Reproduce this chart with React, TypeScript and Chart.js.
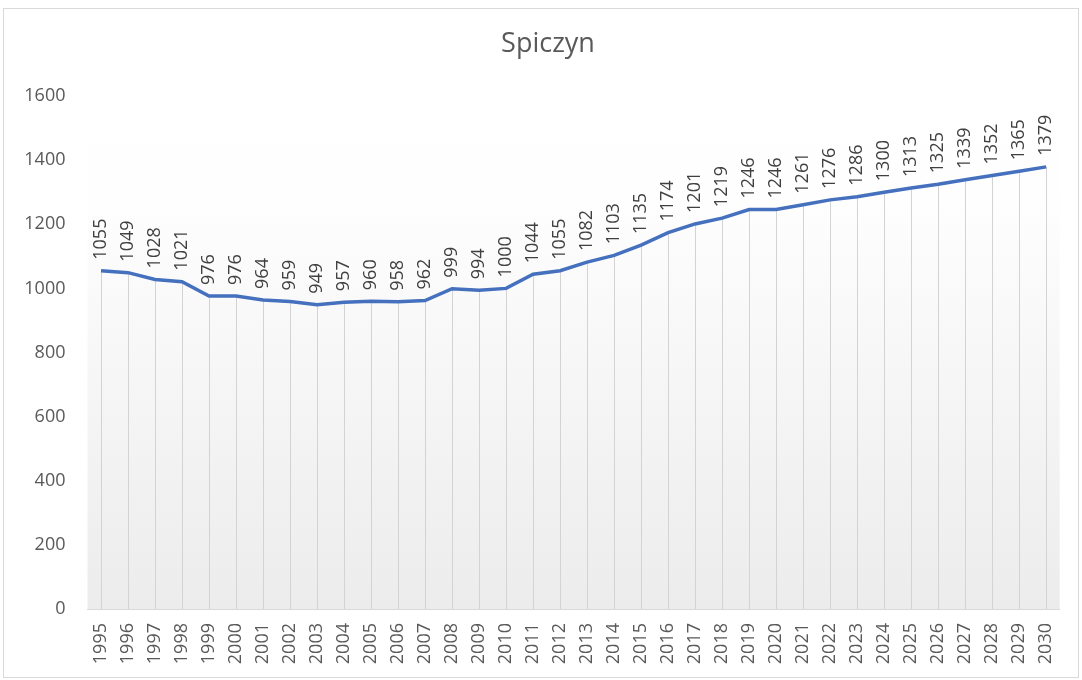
import React, { useEffect, useRef } from "react";
import { Chart, registerables } from "chart.js";

Chart.register(...registerables);

const TITLE = "Spiczyn";
const years = [
  "1995", "1996", "1997", "1998", "1999", "2000", "2001", "2002", "2003", "2004", "2005", "2006",
  "2007", "2008", "2009", "2010", "2011", "2012", "2013", "2014", "2015", "2016", "2017", "2018",
  "2019", "2020", "2021", "2022", "2023", "2024", "2025", "2026", "2027", "2028", "2029", "2030",
];
const population = [
  1055, 1049, 1028, 1021, 976, 976, 964, 959, 949, 957, 960, 958,
  962, 999, 994, 1000, 1044, 1055, 1082, 1103, 1135, 1174, 1201, 1219,
  1246, 1246, 1261, 1276, 1286, 1300, 1313, 1325, 1339, 1352, 1365, 1379,
];
const yMin = 0;
const yMax = 1600;
const yStep = 200;

const FONT = "'Open Sans', 'Noto Sans', sans-serif";

export default function App() {
  const ref = useRef<HTMLCanvasElement>(null);

  useEffect(() => {
    if (!ref.current) return;

    const frame = {
      id: "frame",
      beforeDraw(chart: any) {
        const { ctx, chartArea: a } = chart;
        ctx.save();
        ctx.fillStyle = "#ffffff";
        ctx.fillRect(0, 0, chart.width, chart.height);
        ctx.strokeStyle = "#d9d9d9";
        ctx.lineWidth = 1;
        ctx.strokeRect(3.5, 8.5, 1075, 669);
        const g = ctx.createLinearGradient(0, a.top, 0, a.bottom);
        g.addColorStop(0, "#ffffff");
        g.addColorStop(0.2, "#fefefe");
        g.addColorStop(1, "#ececec");
        ctx.fillStyle = g;
        ctx.fillRect(a.left, a.top, a.right - a.left, a.bottom - a.top);
        ctx.fillStyle = "#595959";
        ctx.font = `27px ${FONT}`;
        ctx.textAlign = "center";
        ctx.textBaseline = "middle";
        ctx.fillText(TITLE, 548, 44);
        ctx.restore();
      },
    };

    const dropLines = {
      id: "dropLines",
      beforeDatasetsDraw(chart: any) {
        const { ctx, chartArea: a } = chart;
        const meta = chart.getDatasetMeta(0);
        ctx.save();
        ctx.strokeStyle = "#d3d3d3";
        ctx.lineWidth = 1;
        meta.data.forEach((p: any) => {
          const x = Math.round(p.x) + 0.5;
          ctx.beginPath();
          ctx.moveTo(x, p.y);
          ctx.lineTo(x, a.bottom);
          ctx.stroke();
        });
        ctx.restore();
      },
    };

    const dataLabels = {
      id: "dataLabels",
      afterDatasetsDraw(chart: any) {
        const { ctx } = chart;
        const meta = chart.getDatasetMeta(0);
        ctx.save();
        ctx.fillStyle = "#404040";
        ctx.font = `18px ${FONT}`;
        ctx.textAlign = "left";
        ctx.textBaseline = "middle";
        meta.data.forEach((p: any, i: number) => {
          ctx.save();
          ctx.translate(p.x, p.y - 11);
          ctx.rotate(-Math.PI / 2);
          ctx.fillText(String(population[i]), 0, 0);
          ctx.restore();
        });
        ctx.restore();
      },
    };

    const chart = new Chart(ref.current, {
      type: "line",
      data: {
        labels: years,
        datasets: [
          {
            data: population,
            borderColor: "#4470BE",
            borderWidth: 3.5,
            pointRadius: 0,
            tension: 0,
            fill: false,
          },
        ],
      },
      options: {
        animation: false,
        responsive: false,
        layout: { padding: { left: 3, right: 16, top: 96, bottom: 11 } },
        plugins: {
          legend: { display: false },
          title: { display: false },
          tooltip: { enabled: false },
        },
        scales: {
          x: {
            offset: true,
            grid: { display: false, drawTicks: false },
            border: { display: true, color: "#d9d9d9", width: 1 },
            ticks: {
              autoSkip: false,
              maxRotation: 90,
              minRotation: 90,
              padding: 14,
              color: "#595959",
              font: { family: FONT, size: 18 },
            },
            afterFit(scale: any) {
              scale.height = 60;
            },
          },
          y: {
            min: yMin,
            max: yMax,
            grid: { display: false, drawTicks: false },
            border: { display: false },
            ticks: {
              stepSize: yStep,
              padding: 22,
              color: "#595959",
              font: { family: FONT, size: 18 },
              callback: (v: any) => String(v),
            },
            afterFit(scale: any) {
              scale.width = 84.5;
            },
          },
        },
      },
      plugins: [frame, dropLines, dataLabels],
    });

    return () => chart.destroy();
  }, []);

  return (
    <div style={{ position: "fixed", left: 0, top: 0, width: 1082, height: 680 }}>
      <canvas ref={ref} width={1082} height={680} style={{ display: "block" }} />
    </div>
  );
}
